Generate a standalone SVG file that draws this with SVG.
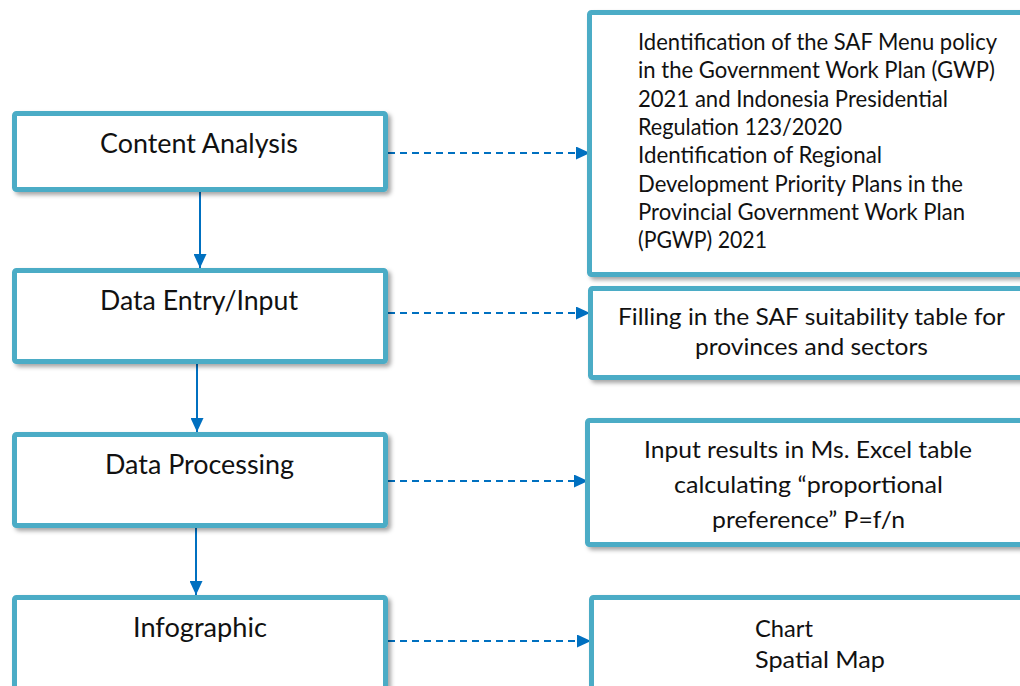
<svg xmlns="http://www.w3.org/2000/svg" width="1020" height="686" viewBox="0 0 1020 686">
<style>
.box{fill:#fff;stroke:#4BACC6;stroke-width:5;filter:url(#sh)}
.lbl{font-family:Lato,"Open Sans","Liberation Sans",sans-serif;font-size:26px;fill:#111}
.txt{font-family:Lato,"Open Sans","Liberation Sans",sans-serif;font-size:22.5px;fill:#111}
.solid{stroke:#0070C0;stroke-width:2;fill:none;marker-end:url(#ah)}
.dash{stroke:#0070C0;stroke-width:2;fill:none;stroke-dasharray:7 5;marker-end:url(#ah)}
</style>
<defs>
<filter id="sh" x="-5%" y="-10%" width="115%" height="130%">
<feDropShadow dx="3" dy="3" stdDeviation="2" flood-color="#000" flood-opacity="0.35"/>
</filter>
<marker id="ah" viewBox="0 0 14 13" refX="14" refY="6.5" markerWidth="14" markerHeight="13" markerUnits="userSpaceOnUse" orient="auto">
<path d="M0,0 L14,6.5 L0,13 Z" fill="#0070C0"/>
</marker>
</defs>
<rect width="1020" height="686" fill="#fff"/>
<g id="connectors">
<line class="solid" x1="200" y1="192" x2="200" y2="268"/>
<line class="solid" x1="197" y1="364" x2="197" y2="432"/>
<line class="solid" x1="196" y1="528" x2="196" y2="595"/>
<line class="dash" x1="388" y1="153" x2="590" y2="153"/>
<line class="dash" x1="388" y1="313" x2="590" y2="313"/>
<line class="dash" x1="388" y1="481" x2="588" y2="481"/>
<line class="dash" x1="388" y1="641" x2="591" y2="641"/>
</g>
<g id="n1">
<rect class="box" x="14.5" y="113.5" width="371" height="76" rx="2"/>
<text class="lbl" x="100" y="153" textLength="198" lengthAdjust="spacingAndGlyphs">Content Analysis</text>
</g>
<g id="n2">
<rect class="box" x="14.5" y="270.5" width="371" height="91" rx="2"/>
<text class="lbl" x="100" y="310" textLength="198" lengthAdjust="spacingAndGlyphs">Data Entry/Input</text>
</g>
<g id="n3">
<rect class="box" x="14.5" y="434.5" width="371" height="91" rx="2"/>
<text class="lbl" x="105" y="474" textLength="189" lengthAdjust="spacingAndGlyphs">Data Processing</text>
</g>
<g id="n4">
<rect class="box" x="14.5" y="597.5" width="371" height="120" rx="2"/>
<text class="lbl" x="133" y="637" textLength="134" lengthAdjust="spacingAndGlyphs">Infographic</text>
</g>
<g id="r1">
<rect class="box" x="589.5" y="12.5" width="450" height="262" rx="2"/>
<text class="txt" x="638" y="50" textLength="359" lengthAdjust="spacingAndGlyphs">Identification of the SAF Menu policy</text>
<text class="txt" x="638" y="78" textLength="357" lengthAdjust="spacingAndGlyphs">in the Government Work Plan (GWP)</text>
<text class="txt" x="638" y="107" textLength="310" lengthAdjust="spacingAndGlyphs">2021 and Indonesia Presidential</text>
<text class="txt" x="638" y="135" textLength="204" lengthAdjust="spacingAndGlyphs">Regulation 123/2020</text>
<text class="txt" x="638" y="163" textLength="244" lengthAdjust="spacingAndGlyphs">Identification of Regional</text>
<text class="txt" x="638" y="192" textLength="325" lengthAdjust="spacingAndGlyphs">Development Priority Plans in the</text>
<text class="txt" x="638" y="220" textLength="327" lengthAdjust="spacingAndGlyphs">Provincial Government Work Plan</text>
<text class="txt" x="638" y="248" textLength="129" lengthAdjust="spacingAndGlyphs">(PGWP) 2021</text>
</g>
<g id="r2">
<rect class="box" x="590.5" y="288.5" width="450" height="89" rx="2"/>
<text class="txt" x="618" y="325" textLength="387" lengthAdjust="spacingAndGlyphs">Filling in the SAF suitability table for</text>
<text class="txt" x="695" y="355" textLength="233" lengthAdjust="spacingAndGlyphs">provinces and sectors</text>
</g>
<g id="r3">
<rect class="box" x="587.5" y="420.5" width="450" height="124" rx="2"/>
<text class="txt" x="644" y="458" textLength="328" lengthAdjust="spacingAndGlyphs">Input results in Ms. Excel table</text>
<text class="txt" x="674" y="493" textLength="269" lengthAdjust="spacingAndGlyphs">calculating “proportional</text>
<text class="txt" x="712" y="528" textLength="193" lengthAdjust="spacingAndGlyphs">preference” P=f/n</text>
</g>
<g id="r4">
<rect class="box" x="591.5" y="597.5" width="450" height="120" rx="2"/>
<text class="txt" x="755" y="637" textLength="58" lengthAdjust="spacingAndGlyphs">Chart</text>
<text class="txt" x="755" y="668" textLength="130" lengthAdjust="spacingAndGlyphs">Spatial Map</text>
</g>
</svg>
